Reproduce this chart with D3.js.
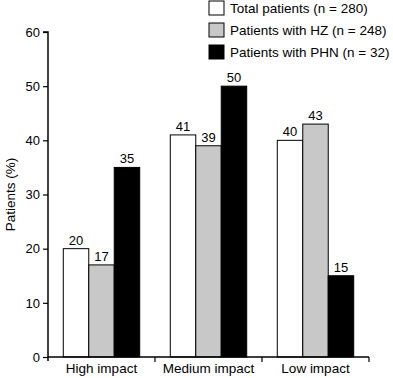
<!DOCTYPE html>
<html>
<head>
<meta charset="utf-8">
<script src="https://cdn.jsdelivr.net/npm/d3@7"></script>
<style>
  body { margin: 0; background: #fff; }
  text { font-family: "Liberation Sans", Arial, sans-serif; fill: #000; }
</style>
</head>
<body>
<div id="chart"></div>
<script>
const categories = ["High impact", "Medium impact", "Low impact"];
const seriesNames = ["Total patients (n = 280)", "Patients with HZ (n = 248)", "Patients with PHN (n = 32)"];
const totalValues = [20, 41, 40];
const hzValues = [17, 39, 43];
const phnValues = [35, 50, 15];
const yTicks = [0, 10, 20, 30, 40, 50, 60];
const fills = ["#ffffff", "#c8c8c8", "#000000"];

const series = [totalValues, hzValues, phnValues];

const width = 393, height = 378;
const margin = {left: 48, right: 24, top: 32, bottom: 21};

const svg = d3.select("#chart")
    .append("svg")
    .attr("width", width)
    .attr("height", height);

const x = d3.scaleBand()
    .domain(categories)
    .range([margin.left, width - margin.right])
    .paddingInner(0)
    .paddingOuter(0);

const inner = d3.scaleBand()
    .domain(d3.range(series.length))
    .range([0, x.bandwidth()])
    .paddingOuter(0.6)
    .paddingInner(0);

const y = d3.scaleLinear()
    .domain([0, 60])
    .range([height - margin.bottom, margin.top]);

// bars
categories.forEach((c, i) => {
    const g = svg.append("g").attr("transform", `translate(${x(c)},0)`);
    series.forEach((vals, s) => {
        g.append("rect")
            .attr("x", inner(s))
            .attr("y", y(vals[i]))
            .attr("width", inner.bandwidth())
            .attr("height", y(0) - y(vals[i]))
            .attr("fill", fills[s])
            .attr("stroke", "#000")
            .attr("stroke-width", 1);
        g.append("text")
            .attr("x", inner(s) + inner.bandwidth() / 2)
            .attr("y", y(vals[i]) - 4)
            .attr("text-anchor", "middle")
            .style("font-size", "13px")
            .text(vals[i]);
    });
});

// y axis
const yAxis = svg.append("g")
    .attr("transform", `translate(${margin.left},0)`)
    .call(d3.axisLeft(y).tickValues(yTicks).tickSize(5).tickPadding(3));
yAxis.select(".domain").attr("stroke", "#000").attr("stroke-width", 1.5)
    .attr("d", `M-5,${y(60)}H0V${y(0) + 4}`);
yAxis.selectAll("line").attr("stroke-width", 1.2);
yAxis.selectAll("text").style("font-size", "13px").attr("font-family", null);

// x axis with ticks at category boundaries
const xAxis = svg.append("g")
    .attr("transform", `translate(0,${y(0)})`);
xAxis.append("path")
    .attr("d", `M${margin.left},0H${width - margin.right}`)
    .attr("stroke", "#000")
    .attr("stroke-width", 1.5)
    .attr("fill", "none");
categories.forEach(c => {
    xAxis.append("line")
        .attr("x1", x(c) + x.bandwidth()).attr("x2", x(c) + x.bandwidth())
        .attr("y1", 0).attr("y2", 5)
        .attr("stroke", "#000").attr("stroke-width", 1.2);
    xAxis.append("text")
        .attr("x", x(c) + x.bandwidth() / 2)
        .attr("y", 16)
        .attr("text-anchor", "middle")
        .style("font-size", "13.5px")
        .text(c);
});

// y label
svg.append("text")
    .attr("transform", `translate(15,${(y(0) + y(60)) / 2}) rotate(-90)`)
    .attr("text-anchor", "middle")
    .style("font-size", "13.5px")
    .text("Patients (%)");

// legend
const legend = svg.append("g").attr("transform", "translate(209,1)");
seriesNames.forEach((name, i) => {
    const row = legend.append("g").attr("transform", `translate(0,${i * 22})`);
    row.append("rect")
        .attr("x", 0).attr("y", 0)
        .attr("width", 15).attr("height", 14)
        .attr("fill", fills[i])
        .attr("stroke", "#000");
    row.append("text")
        .attr("x", 21).attr("y", 12)
        .style("font-size", "13.5px")
        .text(name);
});
</script>
</body>
</html>
